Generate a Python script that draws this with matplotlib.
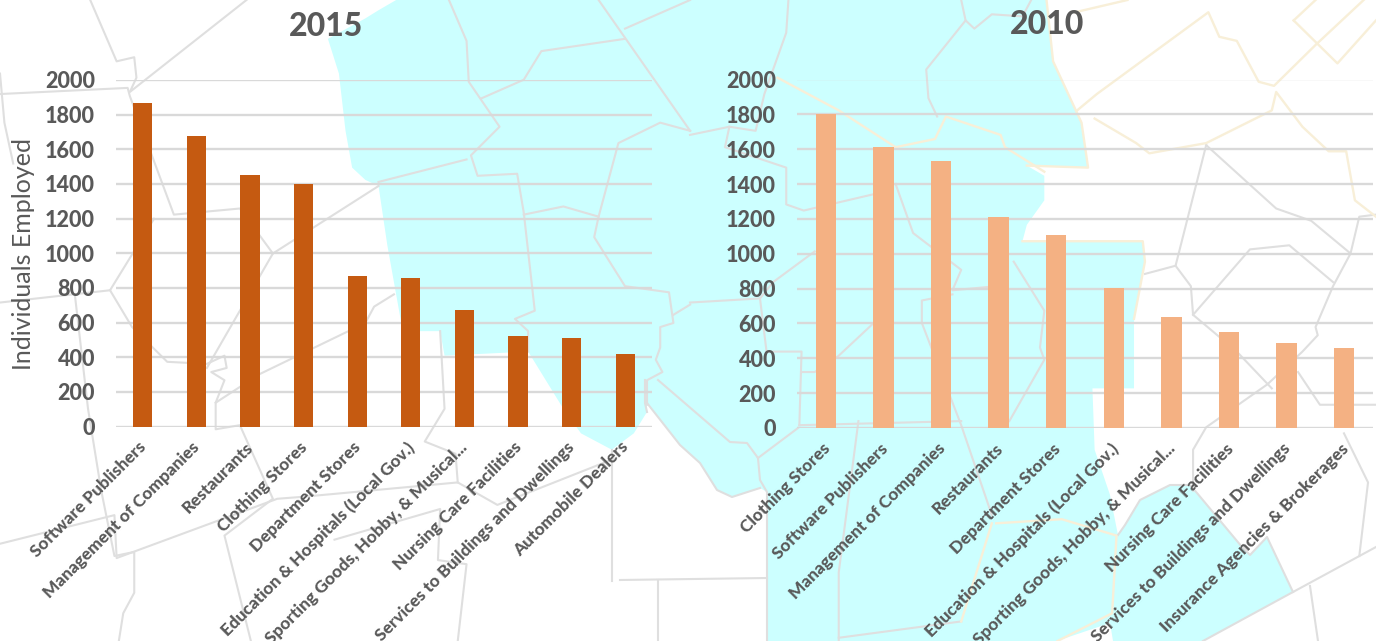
import matplotlib
matplotlib.use("Agg")
import matplotlib.pyplot as plt
from matplotlib.patches import Polygon
from matplotlib.transforms import ScaledTranslation

plt.rcParams['font.family'] = ['Lato', 'DejaVu Sans']

cats_2015 = ["Software Publishers", "Management of Companies", "Restaurants", "Clothing Stores",
             "Department Stores", "Education & Hospitals (Local Gov.)", "Sporting Goods, Hobby, & Musical...",
             "Nursing Care Facilities", "Services to Buildings and Dwellings", "Automobile Dealers"]
vals_2015 = [1870, 1675, 1450, 1400, 870, 860, 670, 520, 510, 420]

cats_2010 = ["Clothing Stores", "Software Publishers", "Management of Companies", "Restaurants",
             "Department Stores", "Education & Hospitals (Local Gov.)", "Sporting Goods, Hobby, & Musical...",
             "Nursing Care Facilities", "Services to Buildings and Dwellings", "Insurance Agencies & Brokerages"]
vals_2010 = [1800, 1610, 1535, 1210, 1105, 805, 635, 550, 490, 460]

W, H = 1376, 641
TXT = '#595959'
GRID = '#d9d9d9'
fig = plt.figure(figsize=(W / 100, H / 100), dpi=100, facecolor='white')

# ---- decorative map backdrop (pixel space) ----
bg = fig.add_axes([0, 0, 1, 1], zorder=0)
bg.set_xlim(0, W); bg.set_ylim(H, 0); bg.axis('off')

def L(p):
    return [(x / 2.272, y / 2.446) for x, y in p]
def R(p):
    return [(690 + x / 2.286, y / 2.446) for x, y in p]

cyan = (L([(900, 0), (860, 25), (830, 45), (745, 95), (770, 180), (785, 320), (800, 410), (830, 440), (860, 455),
           (880, 600), (900, 720), (915, 810), (1000, 810), (1010, 870), (1200, 860), (1280, 1000), (1320, 1060),
           (1390, 1100), (1440, 1060)])
        + [(647, 412), (647, 403), (680, 445), (700, 463), (717, 490), (732, 497), (760, 488), (767, 492), (767, 641),
           (1057, 641), (1110, 623), (1113, 641), (1203, 641), (1293, 592), (1267, 537), (1250, 555), (1242, 547),
           (1197, 493), (1190, 485), (1170, 485), (1140, 500), (1125, 525), (1118, 535)]
        + R([(960, 1210), (925, 1100), (920, 950), (1015, 950), (1015, 780), (1040, 640), (1035, 590), (760, 590),
             (770, 550), (810, 490), (810, 430), (770, 405), (910, 410), (895, 300), (830, 150), (815, 0)]))
bg.add_patch(Polygon(cyan, closed=True, fc='#ccffff', ec='none'))

grey_px = [
    [(645, 380), (645, 403), (647, 412)],
    [(658, 380), (730, 442), (747, 443), (758, 458), (760, 480), (767, 492), (767, 641)],
    [(758, 458), (798, 428)],
    [(620, 580), (767, 578)],
    [(658, 580), (658, 641)],
    [(647, 403), (680, 445), (700, 463), (717, 490), (732, 497), (760, 488)],
    [(1203, 641), (1293, 592), (1376, 547)],
    [(1293, 592), (1267, 537), (1250, 555), (1242, 547), (1197, 493), (1190, 485), (1170, 485), (1140, 500),
     (1125, 525), (1118, 535)],
    [(1310, 586), (1318, 641)],
]
grey_L = [
    [(205, 0), (265, 150), (305, 140), (310, 190), (295, 225), (560, 0)],
    [(0, 230), (290, 215), (295, 235), (395, 525), (545, 510), (620, 620)],
    [(0, 180), (10, 300), (30, 400)],
    [(350, 535), (250, 710), (0, 740)],
    [(250, 710), (300, 800), (380, 885), (470, 890), (510, 870), (515, 900), (480, 910), (510, 930), (490, 985),
     (490, 1050), (545, 1040), (620, 1220), (510, 1310), (570, 1568)],
    [(860, 455), (620, 620), (470, 900)],
    [(895, 720), (850, 750), (830, 790), (590, 915), (490, 985)],
    [(170, 720), (200, 1000), (230, 1200), (260, 1360), (305, 1350), (305, 1450), (280, 1500), (270, 1568)],
    [(0, 1330), (260, 1260), (265, 1365), (630, 1220), (690, 1215), (1040, 1180), (1130, 1235), (1400, 1120)],
    [(760, 1320), (1000, 1245), (995, 1370), (1060, 1380), (1040, 1568)],
    [(1000, 810), (1010, 1000), (965, 1080), (1035, 1110), (1040, 1180)],
    [(1020, 0), (1060, 100), (1065, 200), (1135, 310), (1070, 380), (1085, 430), (1175, 425), (1190, 520), (1215, 760),
     (1170, 780), (1200, 810), (1200, 860)],
    [(1095, 240), (1190, 195), (1230, 125), (1420, 95)],
    [(1360, 0), (1568, 320)],
    [(1420, 70), (1568, 0)],
    [(860, 445), (1060, 390)],
    [(1190, 525), (1280, 505), (1360, 530), (1405, 350), (1500, 300), (1568, 320)],
    [(1360, 530), (1350, 580), (1420, 700), (1520, 715), (1530, 790), (1500, 800), (1500, 850), (1490, 880), (1505, 910),
     (1470, 930), (1470, 990)],
    [(1530, 770), (1568, 745)],
    [(1390, 1100), (1390, 1420)],
]
grey_R = [
    [(225, 0), (220, 80), (170, 230), (150, 320), (90, 310), (0, 330)],
    [(620, 0), (630, 50), (650, 70), (690, 35), (760, 40), (780, 0)],
    [(630, 50), (540, 170), (545, 240), (565, 285)],
    [(90, 310), (80, 360), (220, 410), (220, 500), (260, 515), (420, 475)],
    [(470, 450), (510, 570), (620, 660), (600, 710), (700, 700)],
    [(740, 640), (810, 760), (800, 850), (810, 880), (730, 1030)],
    [(285, 615), (190, 690), (160, 730), (0, 740)],
    [(160, 730), (175, 860), (255, 860), (250, 1040)],
    [(255, 910), (285, 910), (340, 870), (420, 790), (530, 790), (530, 735), (600, 720)],
    [(530, 790), (620, 1040), (690, 1260)],
    [(250, 1040), (620, 1030)],
    [(385, 1030), (340, 1400), (340, 1568)],
    [(340, 1560), (620, 1520)],
    [(1180, 355), (1340, 510), (1420, 540), (1510, 620), (1470, 700), (1430, 800), (1435, 820), (1400, 860), (1320, 940),
     (1180, 1045), (1150, 1100), (1150, 1200)],
    [(1180, 355), (1110, 650), (1040, 670)],
    [(1110, 650), (1145, 700), (1150, 770), (1250, 860), (1330, 950)],
    [(1150, 770), (1280, 610), (1370, 600), (1470, 690)],
    [(1510, 620), (1530, 530), (1568, 525)],
    [(1390, 910), (1440, 990), (1568, 990)],
    [(1495, 1060), (1550, 1180), (1530, 1360)],
]
cream_R = [
    [(200, 190), (340, 270), (470, 360), (560, 340), (585, 285), (710, 330), (720, 360), (810, 420)],
    [(690, 1280), (620, 1520)],
    [(700, 1280), (850, 1270), (975, 1310), (965, 1500), (840, 1568)],
    [(880, 30), (1000, 0)],
    [(885, 270), (930, 230), (1185, 30), (1210, 90), (1250, 100), (1300, 200), (1335, 210), (1430, 110), (1540, 0)],
    [(1380, 50), (1430, 0)],
    [(1380, 50), (1480, 155), (1568, 50)],
    [(925, 290), (1020, 350), (1050, 375), (1180, 350), (1330, 270), (1340, 225), (1400, 310), (1460, 370), (1500, 370),
     (1520, 490), (1568, 530)],
    [(815, 0), (830, 150), (895, 300), (910, 410), (770, 405)],
    [(760, 590), (1035, 590), (1040, 640), (1015, 780)],
]
for seg in grey_px:
    bg.plot(*zip(*seg), color='#dfdfdf', lw=1.5)
for seg in grey_L:
    bg.plot(*zip(*L(seg)), color='#dfdfdf', lw=1.5)
for seg in grey_R:
    bg.plot(*zip(*R(seg)), color='#dfdfdf', lw=1.5)
for seg in cream_R:
    bg.plot(*zip(*R(seg)), color='#f8efd8', lw=1.7)

# ---- charts ----
def panel(x0, x1, y_top, y_bot, cats, vals, color, width, xshift):
    ax = fig.add_axes([x0 / W, 1 - y_bot / H, (x1 - x0) / W, (y_bot - y_top) / H], zorder=2)
    ax.patch.set_alpha(0)
    ax.bar(range(len(vals)), vals, width=width, color=color, zorder=3)
    ax.set_xlim(-0.5, len(vals) - 0.5)
    ax.set_ylim(0, 2000)
    ax.set_yticks(range(0, 2001, 200))
    ax.grid(axis='y', color=GRID, lw=1.7, zorder=1)
    ax.set_axisbelow(True)
    for s in ax.spines.values():
        s.set_visible(False)
    ax.set_xticks(range(len(cats)))
    ax.set_xticklabels(cats, rotation=45, ha='right', rotation_mode='anchor',
                       fontsize=12.4, fontweight=900, color=TXT)
    ax.tick_params(axis='x', length=0, pad=9)
    ax.tick_params(axis='y', length=0, pad=15)
    offset = ScaledTranslation(xshift / 100, 0, fig.dpi_scale_trans)
    for t in ax.get_xticklabels():
        t.set_transform(t.get_transform() + offset)
    for t in ax.get_yticklabels():
        t.set_fontsize(15.5); t.set_fontweight(900); t.set_color(TXT)
    for t in ax.get_yticklabels() + ax.get_xticklabels():
        t.set_clip_on(False)
    return ax

panel(116, 652, 80, 426.5, cats_2015, vals_2015, '#C55A11', 0.355, -5)
panel(797, 1373, 79.5, 428, cats_2010, vals_2010, '#F4B183', 0.357, -4)

fig.text(326 / W, 1 - 27 / H, "2015", ha='center', va='center', fontsize=23, fontweight=900, color=TXT, zorder=3)
fig.text(1047 / W, 1 - 25 / H, "2010", ha='center', va='center', fontsize=23, fontweight=900, color=TXT, zorder=3)
fig.text(24 / W, 1 - 254 / H, "Individuals Employed", rotation=90, ha='center', va='center',
         fontsize=18, color=TXT, zorder=3)

fig.savefig('out.png', dpi=100)
